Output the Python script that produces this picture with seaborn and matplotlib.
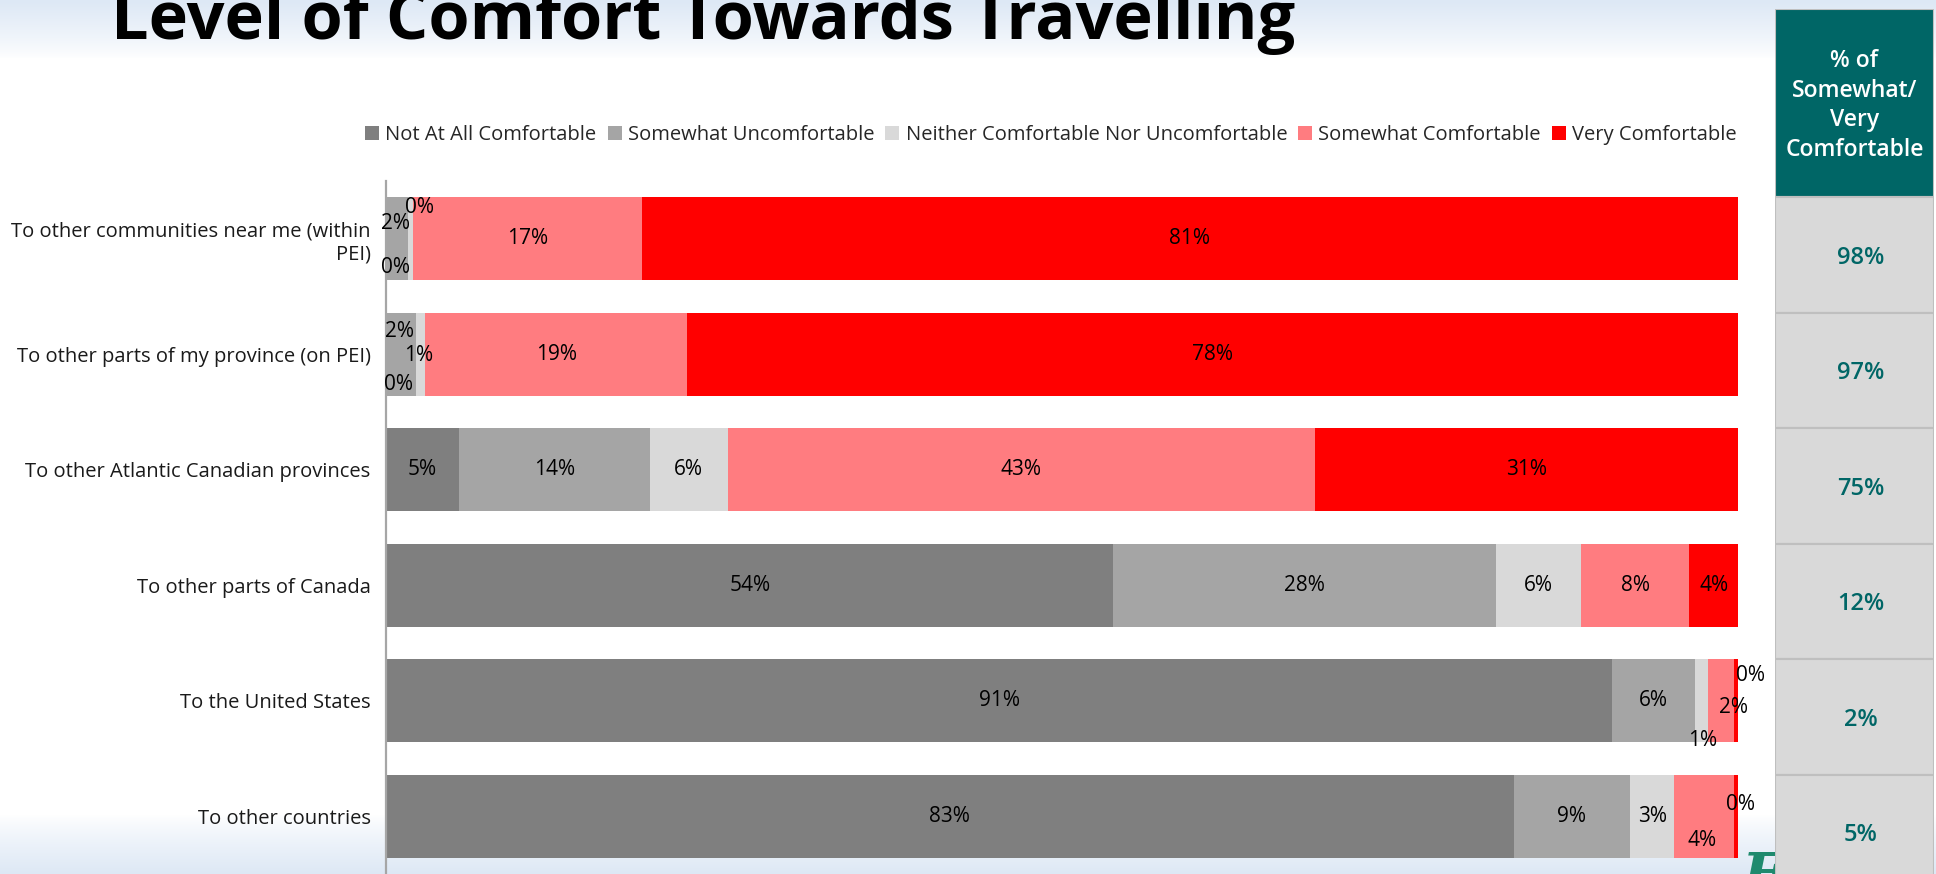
import numpy as np
import pandas as pd
import matplotlib
matplotlib.use("Agg")
import matplotlib.pyplot as plt
import seaborn as sns
from matplotlib.patches import Rectangle, Patch
from matplotlib.colors import to_rgb

# ---- data -------------------------------------------------------------
categories = [
    "To other communities near me (within\nPEI)",
    "To other parts of my province (on PEI)",
    "To other Atlantic Canadian provinces",
    "To other parts of Canada",
    "To the United States",
    "To other countries",
]
levels = [
    "Not At All Comfortable",
    "Somewhat Uncomfortable",
    "Neither Comfortable Nor Uncomfortable",
    "Somewhat Comfortable",
    "Very Comfortable",
]
not_at_all = [0.0, 0.0, 5.4, 53.8, 90.7, 83.4]
somewhat_uncomfortable = [1.6, 2.2, 14.1, 28.3, 6.1, 8.6]
neither = [0.4, 0.7, 5.8, 6.3, 1.0, 3.3]
somewhat_comfortable = [16.9, 19.4, 43.4, 8.0, 1.9, 4.4]
very_comfortable = [81.1, 77.7, 31.3, 3.6, 0.3, 0.3]

series = [not_at_all, somewhat_uncomfortable, neither,
          somewhat_comfortable, very_comfortable]
colors = ["#7f7f7f", "#a5a5a5", "#d9d9d9", "#ff7c80", "#ff0000"]

# nudges for crowded value labels: (row, level) -> (dx in %, dy in rows)
label_nudge = {
    (0, 0): (0.73, 0.25), (0, 1): (-0.07, -0.13), (0, 2): (0.67, -0.27),
    (1, 0): (0.90, 0.26), (1, 1): (-0.10, -0.20), (1, 2): (-0.10, 0.01),
    (4, 2): (0.05, 0.34), (4, 3): (0.90, 0.06), (4, 4): (1.06, -0.22),
    (5, 3): (-0.15, 0.21), (5, 4): (0.33, -0.10),
}

# ---- figure -----------------------------------------------------------
sns.set_style("white")
plt.rcParams["font.family"] = ["Open Sans", "DejaVu Sans"]

W, H = 1936, 874
fig = plt.figure(figsize=(W / 100, H / 100), dpi=100)
fig.patch.set_facecolor("white")

# soft blue bands at top and bottom of the slide
bg = fig.add_axes([0, 0, 1, 1], zorder=-5)
bg.axis("off")
ys = np.arange(H, dtype=float)
band = np.maximum(np.clip((58 - ys) / 58, 0, 1) ** 0.8,
                  np.clip((ys - 815) / (H - 815), 0, 1) ** 0.8)
tint = np.array(to_rgb("#dde8f5"))
img = np.ones((H, 1, 3)) * (1 - band[:, None, None]) + tint * band[:, None, None]
bg.imshow(img, aspect="auto", extent=[0, 1, 0, 1], interpolation="bilinear")

# logo fragment in the corner
fig.text(1741 / W, -20 / H, "E", fontsize=42, family="DejaVu Serif",
         style="italic", fontweight="bold", color="#1f8a6e",
         ha="left", va="baseline", zorder=-1)

# main stacked bar axes
ax_l, ax_r, ax_top = 386, 1738, 181
ax = fig.add_axes([ax_l / W, 0, (ax_r - ax_l) / W, 1 - ax_top / H])
ax.set_facecolor("none")

bar_h = 0.715
left = np.zeros(len(categories))
for lvl, vals, col in zip(levels, series, colors):
    sns.barplot(x=vals, y=categories, orient="h", left=left, color=col,
                saturation=1, width=bar_h, errorbar=None, linewidth=0,
                ax=ax)
    left = left + np.array(vals)

left = np.zeros(len(categories))
for j, vals in enumerate(series):
    for i, v in enumerate(vals):
        dx, dy = label_nudge.get((i, j), (0.0, 0.0))
        ax.text(left[i] + v / 2 + dx, i + dy, f"{v:.0f}%", ha="center",
                va="center", fontsize=15, color="black")
    left = left + np.array(vals)

ax.set_xlim(0, 100)
ax.set_ylim(len(categories) - 0.5, -0.5)
ax.set_xticks([])
ax.set_xlabel("")
ax.set_ylabel("")
for s in ("top", "right", "bottom"):
    ax.spines[s].set_visible(False)
ax.spines["left"].set_color("#a6a6a6")
ax.spines["left"].set_linewidth(1.6)
ax.tick_params(axis="y", length=0, pad=11, labelsize=14.5, labelcolor="#1a1a1a")

# legend
handles = [Patch(facecolor=c, edgecolor="none") for c in colors]
fig.legend(handles, levels, loc="center",
           bbox_to_anchor=((364 + 1738) / 2 / W, 1 - 135 / H), ncol=5,
           frameon=False, fontsize=14.5, handlelength=0.7, handleheight=0.7,
           handletextpad=0.3, columnspacing=0.55, borderaxespad=0,
           labelcolor="#262626")

# title
fig.text(111 / W, 1 - 39 / H, "Level of Comfort Towards Travelling",
         fontsize=48, fontweight="bold", ha="left", va="baseline",
         color="black")

# side table: share of somewhat / very comfortable
px_per_row = (H - ax_top) / len(categories)
tab_top = 9
y_top = (len(categories) - 0.5) - (H - tab_top) / px_per_row
tab = fig.add_axes([1775 / W, 0, (1934 - 1775) / W, 1 - tab_top / H])
tab.set_xlim(0, 1)
tab.set_ylim(len(categories) - 0.5, y_top)
tab.axis("off")

teal = "#006666"
edge = "#bfbfbf"
row_edge = -bar_h / 2
tab.add_patch(Rectangle((0, y_top), 1, row_edge - y_top, facecolor=teal,
                        edgecolor=edge, linewidth=1.5))
tab.text(0.5, (y_top + row_edge) / 2 + 0.02, "% of\nSomewhat/\nVery\nComfortable",
         ha="center", va="center", color="white", fontsize=16.5,
         fontweight="semibold", linespacing=1.3)
for i in range(len(categories)):
    y0 = i + row_edge
    tab.add_patch(Rectangle((0, y0), 1, 1, facecolor="#d9d9d9",
                            edgecolor=edge, linewidth=1.5))
    share = somewhat_comfortable[i] + very_comfortable[i]
    tab.text(0.54, y0 + 0.52, f"{share:.0f}%", ha="center", va="center",
             color=teal, fontsize=17, fontweight="semibold")

fig.savefig("out.png", dpi=100)
